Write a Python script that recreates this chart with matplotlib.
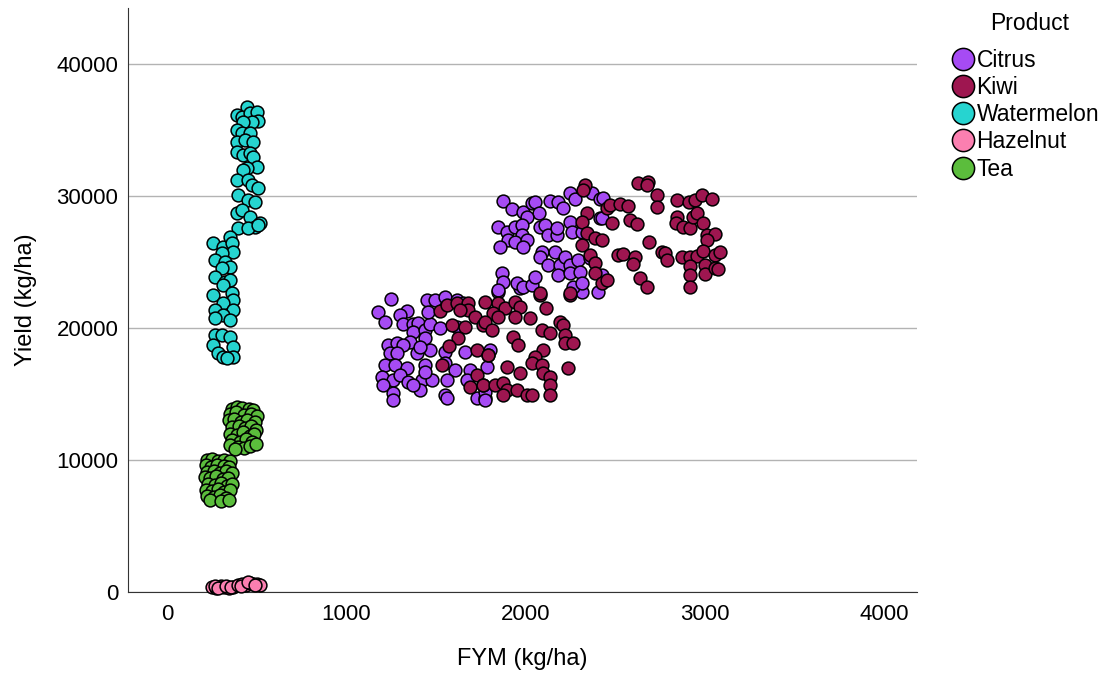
import numpy as np
import matplotlib.pyplot as plt
from matplotlib.lines import Line2D

plt.rcParams['font.family'] = ['Liberation Sans', 'DejaVu Sans']

# Data: (FYM kg/ha, Yield kg/ha)
citrus_pts = [
    (1248, 22197), (1179, 21190), (1216, 20430), (1337, 21289), (1300, 20985), (1318, 20280),
    (1371, 20280), (1402, 20356), (1374, 19720), (1439, 19849), (1467, 20280), (1449, 22121),
    (1495, 22121), (1551, 22373), (1458, 21235), (1523, 19975), (1439, 19220), (1356, 18963),
    (1235, 18713), (1281, 18841), (1318, 18713), (1244, 18084), (1281, 18084), (1393, 18084),
    (1467, 18334), (1411, 18584), (1216, 17197), (1272, 17197), (1337, 16947), (1439, 17197),
    (1198, 16312), (1263, 16061), (1300, 16440), (1346, 15932), (1421, 16061), (1477, 16061),
    (1207, 15682), (1263, 15053), (1263, 14545), (1411, 15303), (1439, 16690), (1374, 15682),
    (1551, 18205), (1551, 17326), (1607, 16819), (1560, 16061), (1551, 14924), (1560, 14674),
    (1662, 18205), (1616, 20099), (1690, 16819), (1672, 16061), (1728, 14674), (1774, 14674),
    (1616, 22121), (1653, 21871), (1849, 22752), (1969, 23003), (1802, 18334), (1784, 17067),
    (1774, 15174), (1774, 14545), (2286, 23003), (2313, 22752),
    (1873, 29622), (1923, 28993), (1988, 28811), (2035, 29448), (2053, 29569), (2077, 28737),
    (2137, 29622), (2183, 29525), (2211, 29069), (2007, 28432), (2248, 30205), (2276, 29773),
    (2369, 30205), (2416, 29773), (1849, 27673), (1895, 27294), (1941, 27673), (1978, 27800),
    (1978, 27042), (1904, 26667), (1941, 26540), (2007, 26667), (1858, 26160), (1988, 26160),
    (2081, 27673), (2109, 27800), (2127, 27042), (2174, 27042), (2174, 27546), (2248, 28054),
    (2258, 27294), (2313, 27294), (2416, 28306), (2090, 25780), (2081, 25401), (2165, 25780),
    (2127, 24773), (2193, 24773), (2220, 25401), (2248, 24773), (2295, 25152), (2360, 25280),
    (2183, 24015), (2248, 24144), (2304, 24265), (1867, 24144), (1876, 23508), (1951, 23387),
    (1988, 23130), (2035, 23258), (2053, 23887), (1849, 22879), (2267, 23130), (2406, 22752),
    (2313, 23387), (2425, 24015), (2434, 29823), (2425, 28300),
]
kiwi_pts = [
    (1523, 21289), (1560, 21743), (1616, 21871), (1681, 21871), (1681, 21364), (1635, 21364),
    (1718, 20856), (1765, 20228), (1588, 20228), (1663, 20099), (1625, 19220), (1575, 18660),
    (1728, 18334), (1793, 17955), (1532, 17197), (1728, 16440), (1690, 15553), (1765, 15682),
    (1774, 21993), (1849, 21871), (1886, 21493), (1941, 21993), (1969, 21614), (1821, 21114),
    (1849, 20856), (1941, 20856), (2025, 20735), (1774, 20478), (1811, 19849), (2081, 22500),
    (2114, 21493), (2248, 22500), (1932, 19341), (1960, 18713), (2090, 19849), (2137, 19599),
    (2193, 20478), (2211, 20228), (2220, 19470), (2220, 18841), (2267, 18841), (2099, 18334),
    (2053, 17826), (2035, 17326), (2090, 17197), (2099, 16568), (2137, 16312), (2239, 16947),
    (1895, 17067), (1969, 16568), (1793, 17955), (1765, 15682), (1830, 15682), (1876, 15811),
    (1895, 15303), (1951, 15303), (2007, 14924), (2035, 14924), (2137, 15682), (2137, 14924),
    (1876, 14924),
    (2332, 30834), (2323, 30455), (2341, 28690), (2313, 28054), (2341, 27167), (2388, 26796),
    (2313, 26288), (2360, 25530), (2425, 26667), (2388, 24900), (2388, 24144), (2425, 23387),
    (2453, 29069), (2081, 22629), (2248, 22629),
    (2630, 30963), (2685, 31040), (2676, 30834), (2732, 30077), (2732, 29189), (2472, 29318),
    (2527, 29372), (2574, 29266), (2847, 29697), (2914, 29525), (2946, 29697), (2983, 30077),
    (3039, 29773), (2583, 28182), (2624, 27856), (2481, 27932), (2844, 28432), (2840, 27932),
    (2881, 27673), (2918, 27546), (2937, 28432), (2955, 28690), (2992, 27932), (3011, 27042),
    (3057, 27097), (3011, 26667), (2689, 26540), (2518, 25530), (2546, 25606), (2611, 25401),
    (2602, 24826), (2760, 25780), (2779, 25659), (2788, 25152), (2871, 25401), (2918, 25401),
    (2955, 25477), (2992, 25834), (3057, 25530), (3085, 25780), (2918, 24720), (2918, 24015),
    (2918, 23130), (3002, 24773), (3002, 24091), (3057, 24523), (3076, 24470), (2639, 23766),
    (2676, 23130), (2457, 23637),
]
watermelon_pts = [
    (448, 36766), (389, 36137), (417, 36009), (463, 36266), (500, 36387), (509, 35705),
    (472, 35629), (426, 35629), (389, 35001), (417, 34750), (463, 34750), (389, 34114),
    (435, 34243), (481, 34114), (389, 33356), (426, 33107), (463, 33235), (481, 32978),
    (500, 32221), (445, 32098), (426, 31970), (389, 31213), (454, 31213), (472, 30834),
    (509, 30584), (398, 30077), (454, 29697), (491, 29569), (389, 28690), (417, 28941),
    (463, 28432), (519, 27932), (491, 27673), (398, 27546), (454, 27546), (509, 27800),
    (258, 26417), (314, 26160), (351, 26917), (361, 26417), (370, 25780), (305, 25659),
    (268, 25152), (324, 25023), (351, 24644), (305, 24523), (268, 23887), (324, 23508),
    (351, 23637), (314, 23258), (258, 22500), (361, 22629), (370, 22121), (314, 21871),
    (268, 21364), (370, 21364), (314, 20985), (268, 20735), (351, 20607), (268, 19470),
    (305, 19470), (351, 19341), (258, 18713), (370, 18584), (286, 18084), (314, 17826),
    (370, 17826), (333, 17700),
]
hazelnut_pts = [
    (250, 380), (275, 330), (300, 420), (320, 350), (345, 300), (370, 380), (265, 430),
    (285, 300), (330, 450), (355, 400), (395, 550), (420, 620), (440, 520), (460, 680),
    (480, 590), (500, 640), (520, 560), (410, 480), (450, 720), (490, 520),
]
tea_pts = [
    (360, 13900), (390, 14000), (420, 13950), (455, 13850), (480, 13800), (350, 13500),
    (385, 13600), (430, 13400), (470, 13500), (500, 13300), (345, 13000), (375, 13100),
    (410, 12900), (445, 13050), (490, 12850), (360, 12500), (400, 12600), (435, 12400),
    (470, 12550), (495, 12300), (350, 12000), (390, 11900), (425, 12100), (460, 11850),
    (485, 12000), (365, 11500), (405, 11400), (440, 11600), (475, 11350), (350, 11100),
    (395, 11000), (430, 10900), (465, 11050), (495, 11200), (380, 10800),
    (220, 10000), (250, 10050), (285, 9950), (320, 10000), (350, 9900), (215, 9600),
    (245, 9500), (280, 9650), (315, 9550), (345, 9450), (225, 9100), (260, 9200),
    (295, 9000), (330, 9150), (360, 9050), (210, 8700), (240, 8600), (275, 8750),
    (310, 8550), (340, 8650), (230, 8200), (265, 8100), (300, 8250), (335, 8050),
    (360, 8150), (215, 7750), (250, 7650), (285, 7800), (320, 7600), (350, 7700),
    (225, 7300), (260, 7200), (295, 7350), (330, 7150), (240, 6950), (300, 6900),
    (345, 7000),
]

products = ['Citrus', 'Kiwi', 'Watermelon', 'Hazelnut', 'Tea']
series = [citrus_pts, kiwi_pts, watermelon_pts, hazelnut_pts, tea_pts]
colors = ['#a64bf4', '#9e1650', '#26d4d0', '#fb7fb0', '#5bbd3c']

fig = plt.figure(figsize=(11.12, 6.73), dpi=100)
ax = fig.add_axes([128 / 1112, 1 - 592 / 673, (917 - 128) / 1112, (592 - 8) / 673])

for name, pts, c in zip(products, series, colors):
    arr = np.array(pts)
    ax.scatter(arr[:, 0], arr[:, 1], s=85, color=c, edgecolor='black',
               linewidth=1.1, zorder=3, label=name, clip_on=False)

ax.set_xlim(-218, 4184)
ax.set_ylim(0, 44240)
ax.set_xticks([0, 1000, 2000, 3000, 4000])
ax.set_yticks([0, 10000, 20000, 30000, 40000])
ax.tick_params(length=0, labelsize=16)
ax.tick_params(axis='x', pad=9)
ax.tick_params(axis='y', pad=7)
ax.yaxis.grid(True, color='#b3b3b3', linewidth=1)
ax.set_axisbelow(True)
for s in ['top', 'right']:
    ax.spines[s].set_visible(False)
for s in ['left', 'bottom']:
    ax.spines[s].set_color('#333333')
ax.set_xlabel('FYM (kg/ha)', fontsize=17, labelpad=16)
ax.set_ylabel('Yield (kg/ha)', fontsize=17, labelpad=14)

# legend
fig.text(1030 / 1112, 1 - 24 / 673, 'Product', fontsize=16.5, ha='center', va='center')
handles = [Line2D([], [], marker='o', linestyle='', markersize=16, markerfacecolor=c,
                  markeredgecolor='black', markeredgewidth=1.1) for c in colors]
fig.legend(handles, products, loc='upper left',
           bbox_to_anchor=(933 / 1112, 1 - 33 / 673), frameon=False, fontsize=16.5,
           handletextpad=0.0, handlelength=1.2, labelspacing=0.18, borderpad=0.2)

fig.savefig('out.png', dpi=100)
